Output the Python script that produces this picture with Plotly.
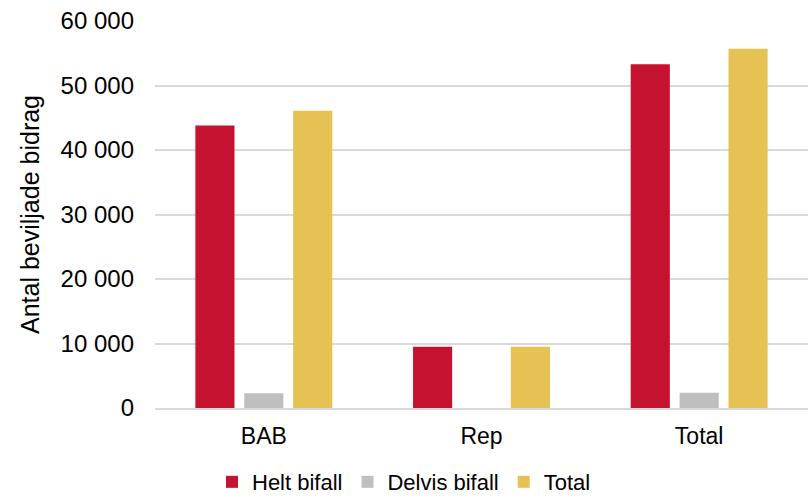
import plotly.graph_objects as go

categories = ["BAB", "Rep", "Total"]
helt_bifall = [43800, 9500, 53300]
delvis_bifall = [2300, 0, 2350]
total = [46100, 9500, 55700]

series = [
    ("Helt bifall", helt_bifall, "#C41230"),
    ("Delvis bifall", delvis_bifall, "#BFBFBF"),
    ("Total", total, "#E6C254"),
]

fig = go.Figure()
for name, values, color in series:
    fig.add_trace(go.Bar(
        name=name, x=categories, y=values,
        marker=dict(color=color, line=dict(width=0)),
    ))

font_family = "Liberation Sans, Arial, sans-serif"

fig.update_layout(
    width=808, height=499,
    margin=dict(l=155, r=0, t=21, b=91),
    paper_bgcolor="white", plot_bgcolor="white",
    font=dict(family=font_family, size=24, color="#000000"),
    barmode="group",
    bargap=0.326,
    bargroupgap=0.2,
    separators=", ",
    showlegend=True,
    legend=dict(
        orientation="h",
        xref="container", yref="container",
        x=0.50, xanchor="center",
        y=0.034, yanchor="middle",
        font=dict(size=22),
        itemwidth=30,
        traceorder="normal",
    ),
    xaxis=dict(
        showgrid=False, showline=True, linecolor="#D9D9D9", linewidth=2,
        ticks="", tickfont=dict(size=23),
        ticklabelstandoff=6,
    ),
    yaxis=dict(
        range=[0, 60000], dtick=10000, tickformat=",d",
        showgrid=True, gridcolor="#D9D9D9", gridwidth=2,
        zeroline=False, showline=False, ticks="",
        ticklabelstandoff=20,
        tickfont=dict(size=24),
        title=dict(text="Antal beviljade bidrag", font=dict(size=25), standoff=13),
        automargin=False,
    ),
)

fig.write_html("out.html")
